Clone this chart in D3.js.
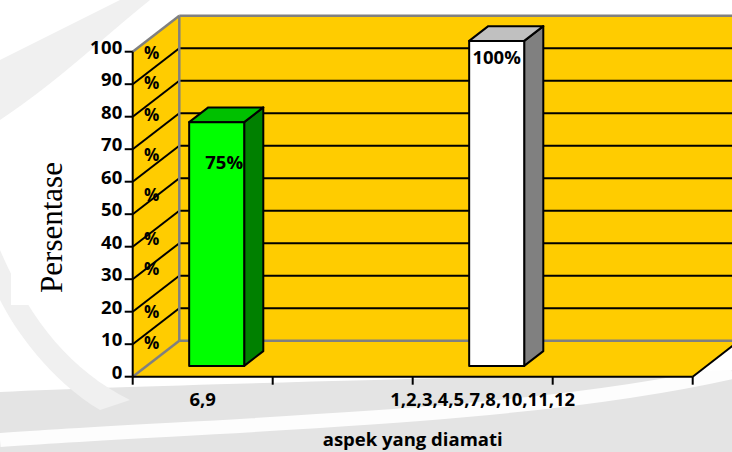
<!DOCTYPE html>
<html>
<head>
<meta charset="utf-8">
<script src="https://cdn.jsdelivr.net/npm/d3@7"></script>
<style>
  html, body { margin: 0; padding: 0; background: #ffffff; }
  svg { display: block; }
  text { font-family: "Open Sans", "Lato", sans-serif; }
</style>
</head>
<body>
<svg id="chart" width="732" height="452"></svg>
<script>
// ---- data ----
const categories = ["6,9", "", "1,2,3,4,5,7,8,10,11,12", ""];
const values = [75, null, 100, null];
const valueLabels = ["75%", "", "100%", ""];
const yTicks = [0, 10, 20, 30, 40, 50, 60, 70, 80, 90, 100];
const percentMarks = [99.6, 90.4, 80.5, 68.2, 55.9, 42.4, 33.1, 19.9, 10.4];
const yTitle = "Persentase";
const xTitle = "aspek yang diamati";

// ---- layout ----
const W = 732, H = 452;
const X0 = 132.7, X1 = 692.7, Y0 = 376.7, Ytop = 51.7;
const DX = 46.6, DY = -36;          // depth of the 3D box
const fFront = 0.30, fBack = 0.71;  // bar depth fractions

const svg = d3.select("#chart");

// faint watermark-like background
const bg = svg.append("g");
bg.append("path")
  .attr("d", "M0,392 C150,385 400,380 732,370 L732,452 L0,452 Z")
  .attr("fill", "#e4e4e4");
bg.append("path")
  .attr("d", "M0,440 C200,425 520,420 732,372")
  .attr("fill", "none").attr("stroke", "#ffffff").attr("stroke-width", 14).attr("opacity", 0.9);
bg.append("path")
  .attr("d", "M0,60 C40,40 80,20 120,0 L150,0 C100,40 60,80 0,120 Z")
  .attr("fill", "#f0f0f0");
bg.append("path")
  .attr("d", "M0,250 C30,320 70,370 130,400 L100,410 C50,380 15,330 0,300 Z")
  .attr("fill", "#f0f0f0");

const y = d3.scaleLinear().domain([0, 100]).range([Y0, Ytop]);
const xSlot = d3.scaleBand().domain(d3.range(categories.length)).range([X0, X1]);
const xBar = d3.scaleBand().domain(d3.range(categories.length)).range([X0, X1])
  .paddingInner(0.607).paddingOuter(0.3035);

const yellow = "#FFCC00", edgeGrey = "#808080";

const clip = svg.append("defs").append("clipPath").attr("id", "plotclip");
clip.append("rect").attr("x", 0).attr("y", 0).attr("width", W).attr("height", H);

const g = svg.append("g").attr("clip-path", "url(#plotclip)");

// side wall
g.append("polygon")
  .attr("points", [[X0, y(100)], [X0 + DX, y(100) + DY], [X0 + DX, Y0 + DY], [X0, Y0]].join(" "))
  .attr("fill", yellow);
// back wall
g.append("rect")
  .attr("x", X0 + DX).attr("y", y(100) + DY)
  .attr("width", X1 - X0).attr("height", Y0 - y(100))
  .attr("fill", yellow);
// floor
g.append("polygon")
  .attr("points", [[X0, Y0], [X1, Y0], [X1 + DX, Y0 + DY], [X0 + DX, Y0 + DY]].join(" "))
  .attr("fill", yellow);

// gridlines on back wall and diagonals on side wall
const inner = yTicks.filter(v => v > 0 && v < 100);
g.selectAll("line.grid").data(inner).join("line")
  .attr("x1", X0 + DX).attr("x2", X1 + DX)
  .attr("y1", v => y(v) + DY).attr("y2", v => y(v) + DY)
  .attr("stroke", "#000").attr("stroke-width", 2);
g.selectAll("line.diag").data(inner).join("line")
  .attr("x1", X0).attr("x2", X0 + DX)
  .attr("y1", v => y(v)).attr("y2", v => y(v) + DY)
  .attr("stroke", "#000").attr("stroke-width", 2);

// grey box edges
const greyEdges = [
  [[X0, y(100)], [X0 + DX, y(100) + DY]],
  [[X0 + DX, y(100) + DY], [X1 + DX, y(100) + DY]],
  [[X0 + DX, y(100) + DY], [X0 + DX, Y0 + DY]],
  [[X0 + DX, Y0 + DY], [X1 + DX, Y0 + DY]],
  [[X0, Y0], [X0 + DX, Y0 + DY]]
];
g.selectAll("line.edge").data(greyEdges).join("line")
  .attr("x1", d => d[0][0]).attr("y1", d => d[0][1])
  .attr("x2", d => d[1][0]).attr("y2", d => d[1][1])
  .attr("stroke", edgeGrey).attr("stroke-width", 2.5);

// floor right edge (black)
g.append("line")
  .attr("x1", X1).attr("y1", Y0).attr("x2", X1 + DX).attr("y2", Y0 + DY)
  .attr("stroke", "#000").attr("stroke-width", 2);

// "%" marks on side wall
g.selectAll("text.pct").data(percentMarks).join("text")
  .attr("x", X0 + 19).attr("y", v => y(v))
  .attr("dy", "0.36em")
  .attr("text-anchor", "middle")
  .attr("font-size", 17).attr("font-weight", 700)
  .text("%");

// bars
const barColors = [
  { front: "#00FF00", top: "#00C000", side: "#008000" },
  null,
  { front: "#FFFFFF", top: "#C0C0C0", side: "#808080" },
  null
];
const fdx = DX * fFront, fdy = DY * fFront, bdx = DX * fBack, bdy = DY * fBack;
const bars = values.map((v, i) => ({ v, i })).filter(d => d.v != null);
const bw = xBar.bandwidth();
bars.forEach(d => {
  const xb = xBar(d.i), yv = y(d.v), c = barColors[d.i];
  const bg2 = g.append("g").attr("stroke", "#000").attr("stroke-width", 2).attr("stroke-linejoin", "round");
  bg2.append("polygon")
    .attr("points", [[xb + fdx + bw, yv + fdy], [xb + bdx + bw, yv + bdy], [xb + bdx + bw, Y0 + bdy], [xb + fdx + bw, Y0 + fdy]].join(" "))
    .attr("fill", c.side);
  bg2.append("polygon")
    .attr("points", [[xb + fdx, yv + fdy], [xb + fdx + bw, yv + fdy], [xb + bdx + bw, yv + bdy], [xb + bdx, yv + bdy]].join(" "))
    .attr("fill", c.top);
  bg2.append("rect")
    .attr("x", xb + fdx).attr("y", yv + fdy).attr("width", bw).attr("height", Y0 - yv)
    .attr("fill", c.front);
});

// value labels
const labelPos = [
  { dx: 7.5, dy: 46.5 },
  null,
  { dx: 0, dy: 23 },
  null
];
bars.forEach(d => {
  const p = labelPos[d.i];
  g.append("text")
    .attr("x", xBar(d.i) + fdx + bw / 2 + p.dx)
    .attr("y", y(d.v) + fdy + p.dy)
    .attr("text-anchor", "middle")
    .attr("font-size", 18.5).attr("font-weight", 700)
    .text(valueLabels[d.i]);
});

// axes lines
svg.append("line").attr("x1", X0).attr("x2", X0).attr("y1", y(100)).attr("y2", Y0)
  .attr("stroke", "#000").attr("stroke-width", 2);
svg.append("line").attr("x1", X0).attr("x2", X1).attr("y1", Y0).attr("y2", Y0)
  .attr("stroke", "#000").attr("stroke-width", 2);

// y ticks & labels
svg.selectAll("line.ytick").data(yTicks).join("line")
  .attr("x1", X0 - 8).attr("x2", X0).attr("y1", v => y(v)).attr("y2", v => y(v))
  .attr("stroke", "#000").attr("stroke-width", 2);
svg.selectAll("text.ylab").data(yTicks).join("text")
  .attr("x", X0 - 10).attr("y", v => y(v) + 2)
  .attr("text-anchor", "end")
  .attr("font-size", 18.5).attr("font-weight", 700)
  .attr("letter-spacing", 0.3)
  .text(v => v);

// x ticks & labels
const xTickPos = d3.range(categories.length + 1).map(i => X0 + i * xSlot.step());
svg.selectAll("line.xtick").data(xTickPos).join("line")
  .attr("x1", d => d).attr("x2", d => d).attr("y1", Y0).attr("y2", Y0 + 8)
  .attr("stroke", "#000").attr("stroke-width", 2);
svg.selectAll("text.xlab").data(categories).join("text")
  .attr("x", (d, i) => xSlot(i) + xSlot.bandwidth() / 2)
  .attr("y", 406)
  .attr("text-anchor", "middle")
  .attr("font-size", 18.5).attr("font-weight", 700)
  .text(d => d);

// axis titles
svg.append("text")
  .attr("x", (X0 + X1) / 2).attr("y", 446)
  .attr("text-anchor", "middle")
  .attr("font-size", 18.5).attr("font-weight", 700)
  .text(xTitle);

svg.append("rect").attr("x", 11).attr("y", 131).attr("width", 77).attr("height", 174).attr("fill", "#fff");
svg.append("text")
  .attr("transform", "translate(61.5,227.5) rotate(-90)")
  .attr("text-anchor", "middle")
  .style("font-family", "'Liberation Serif', 'Times New Roman', serif")
  .attr("font-size", 31)
  .text(yTitle);
</script>
</body>
</html>
